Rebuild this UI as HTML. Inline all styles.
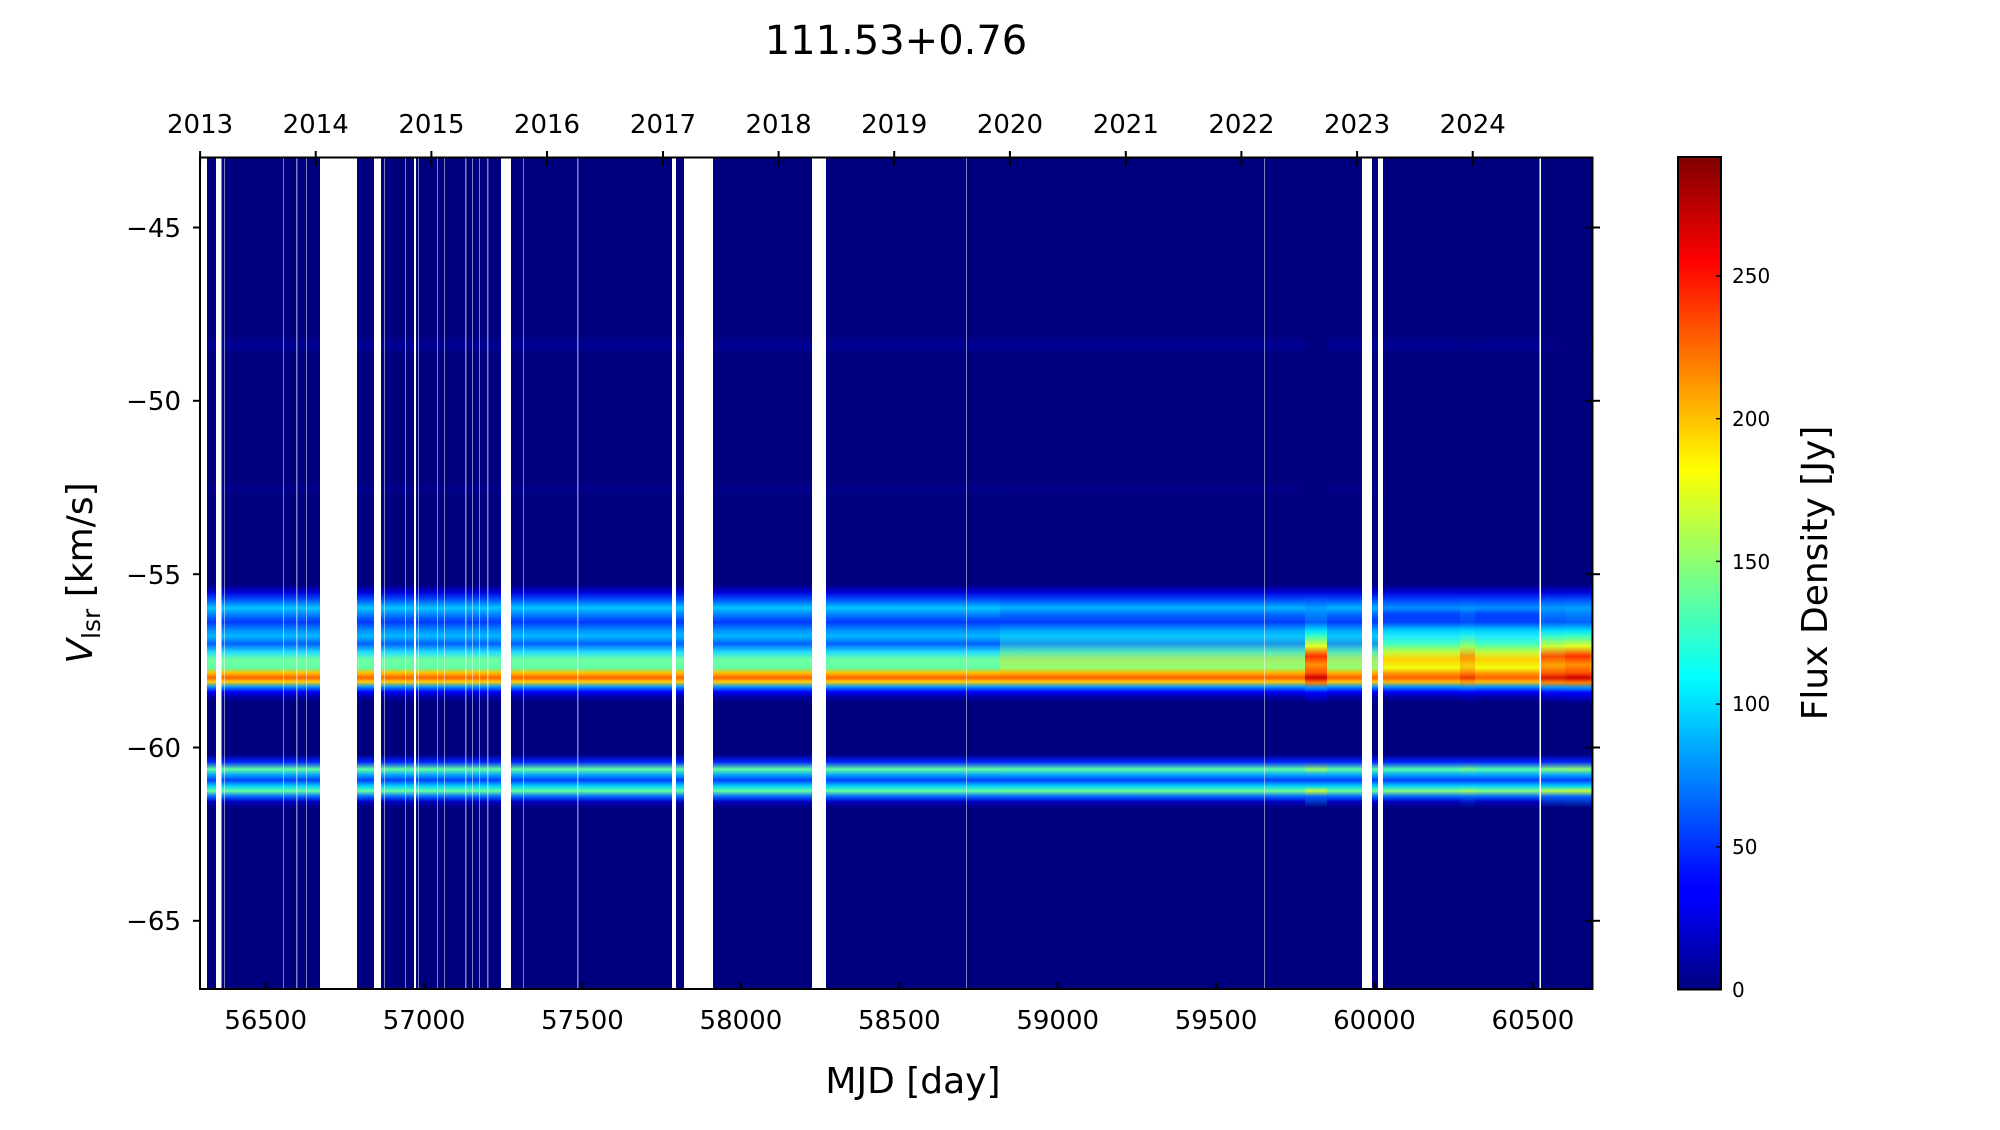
<!DOCTYPE html>
<html><head><meta charset="utf-8"><style>
html,body{margin:0;padding:0;background:#fff;}
svg text{font-family:"DejaVu Sans","Liberation Sans",sans-serif;fill:#000;}
</style></head><body>
<svg width="2000" height="1125" viewBox="0 0 2000 1125" xmlns="http://www.w3.org/2000/svg">
<defs>
<linearGradient id="gA" gradientUnits="userSpaceOnUse" x1="0" y1="157" x2="0" y2="989">
<stop offset="0" stop-color="#00007f"/>
<stop offset="0.2165" stop-color="#00007f"/>
<stop offset="0.2260" stop-color="#000098"/>
<stop offset="0.2380" stop-color="#00007f"/>
<stop offset="0.3920" stop-color="#00007f"/>
<stop offset="0.3990" stop-color="#00008e"/>
<stop offset="0.4060" stop-color="#00007f"/>
<stop offset="0.5140" stop-color="#00007f"/>
<stop offset="0.5230" stop-color="#0000d8"/>
<stop offset="0.5320" stop-color="#0050ff"/>
<stop offset="0.5420" stop-color="#00c8ff"/>
<stop offset="0.5500" stop-color="#0080ff"/>
<stop offset="0.5590" stop-color="#0038ff"/>
<stop offset="0.5690" stop-color="#0090ff"/>
<stop offset="0.5760" stop-color="#00b8ff"/>
<stop offset="0.5850" stop-color="#0060ff"/>
<stop offset="0.5950" stop-color="#20dcff"/>
<stop offset="0.6040" stop-color="#70ffa0"/>
<stop offset="0.6140" stop-color="#60ffa8"/>
<stop offset="0.6200" stop-color="#ffc000"/>
<stop offset="0.6260" stop-color="#ff6000"/>
<stop offset="0.6310" stop-color="#ffd000"/>
<stop offset="0.6370" stop-color="#0090ff"/>
<stop offset="0.6430" stop-color="#0000ff"/>
<stop offset="0.6500" stop-color="#00009a"/>
<stop offset="0.6570" stop-color="#00007f"/>
<stop offset="0.7180" stop-color="#00007f"/>
<stop offset="0.7270" stop-color="#0020ff"/>
<stop offset="0.7360" stop-color="#60ffa0"/>
<stop offset="0.7430" stop-color="#00a0ff"/>
<stop offset="0.7490" stop-color="#0040ff"/>
<stop offset="0.7560" stop-color="#00d0ff"/>
<stop offset="0.7620" stop-color="#60ffa0"/>
<stop offset="0.7690" stop-color="#0060ff"/>
<stop offset="0.7750" stop-color="#0000c0"/>
<stop offset="0.7820" stop-color="#00007f"/>
<stop offset="1" stop-color="#00007f"/>
</linearGradient>
<linearGradient id="gB" gradientUnits="userSpaceOnUse" x1="0" y1="157" x2="0" y2="989">
<stop offset="0" stop-color="#00007f"/>
<stop offset="0.2165" stop-color="#00007f"/>
<stop offset="0.2260" stop-color="#000098"/>
<stop offset="0.2380" stop-color="#00007f"/>
<stop offset="0.5140" stop-color="#00007f"/>
<stop offset="0.5230" stop-color="#0000d8"/>
<stop offset="0.5320" stop-color="#0040ff"/>
<stop offset="0.5420" stop-color="#0090ff"/>
<stop offset="0.5500" stop-color="#0040ff"/>
<stop offset="0.5590" stop-color="#0040ff"/>
<stop offset="0.5690" stop-color="#00d0ff"/>
<stop offset="0.5760" stop-color="#20e8ff"/>
<stop offset="0.5850" stop-color="#40ffc0"/>
<stop offset="0.5950" stop-color="#c0ff40"/>
<stop offset="0.6040" stop-color="#ffd000"/>
<stop offset="0.6140" stop-color="#f0ff10"/>
<stop offset="0.6200" stop-color="#ffa000"/>
<stop offset="0.6260" stop-color="#ff6000"/>
<stop offset="0.6310" stop-color="#ffc000"/>
<stop offset="0.6370" stop-color="#0090ff"/>
<stop offset="0.6430" stop-color="#0000ff"/>
<stop offset="0.6500" stop-color="#00009a"/>
<stop offset="0.6570" stop-color="#00007f"/>
<stop offset="0.7180" stop-color="#00007f"/>
<stop offset="0.7270" stop-color="#0020ff"/>
<stop offset="0.7360" stop-color="#50ffb0"/>
<stop offset="0.7430" stop-color="#00a0ff"/>
<stop offset="0.7490" stop-color="#0040ff"/>
<stop offset="0.7560" stop-color="#00d0ff"/>
<stop offset="0.7620" stop-color="#80ff80"/>
<stop offset="0.7690" stop-color="#0060ff"/>
<stop offset="0.7750" stop-color="#0000c0"/>
<stop offset="0.7820" stop-color="#00007f"/>
<stop offset="1" stop-color="#00007f"/>
</linearGradient>
<linearGradient id="gH" gradientUnits="userSpaceOnUse" x1="0" y1="157" x2="0" y2="989">
<stop offset="0" stop-color="#00007f"/>
<stop offset="0.5140" stop-color="#00007f"/>
<stop offset="0.5230" stop-color="#0000d8"/>
<stop offset="0.5320" stop-color="#0050ff"/>
<stop offset="0.5420" stop-color="#00a0ff"/>
<stop offset="0.5590" stop-color="#0060ff"/>
<stop offset="0.5690" stop-color="#00e0ff"/>
<stop offset="0.5760" stop-color="#40ffc0"/>
<stop offset="0.5880" stop-color="#e0ff20"/>
<stop offset="0.6000" stop-color="#ff3000"/>
<stop offset="0.6100" stop-color="#ff9000"/>
<stop offset="0.6200" stop-color="#ff5000"/>
<stop offset="0.6260" stop-color="#d00000"/>
<stop offset="0.6320" stop-color="#ff8000"/>
<stop offset="0.6380" stop-color="#0090ff"/>
<stop offset="0.6440" stop-color="#0000ff"/>
<stop offset="0.6570" stop-color="#00007f"/>
<stop offset="0.7180" stop-color="#00007f"/>
<stop offset="0.7270" stop-color="#0020ff"/>
<stop offset="0.7360" stop-color="#90ff70"/>
<stop offset="0.7430" stop-color="#00a0ff"/>
<stop offset="0.7490" stop-color="#0040ff"/>
<stop offset="0.7560" stop-color="#00d0ff"/>
<stop offset="0.7620" stop-color="#c0ff40"/>
<stop offset="0.7690" stop-color="#0060ff"/>
<stop offset="0.7820" stop-color="#00007f"/>
<stop offset="1" stop-color="#00007f"/>
</linearGradient>
<linearGradient id="cb" x1="0" y1="1" x2="0" y2="0">
<stop offset="0" stop-color="#00007f"/>
<stop offset="0.11" stop-color="#0000ff"/>
<stop offset="0.125" stop-color="#0000ff"/>
<stop offset="0.375" stop-color="#00ffff"/>
<stop offset="0.625" stop-color="#ffff00"/>
<stop offset="0.875" stop-color="#ff0000"/>
<stop offset="1" stop-color="#7f0000"/>
</linearGradient>
</defs>

<text x="896" y="54" font-size="40" text-anchor="middle">111.53+0.76</text>

<rect x="200" y="157" width="1183" height="832" fill="url(#gA)"/>
<rect x="1000" y="157" width="383" height="832" fill="url(#gB)" opacity="0.35"/>
<rect x="1383" y="157" width="210" height="832" fill="url(#gB)"/>
<rect x="1305" y="157" width="22" height="832" fill="url(#gH)"/>
<rect x="1540" y="157" width="53" height="832" fill="url(#gH)" opacity="0.8"/>
<rect x="1460" y="157" width="15" height="832" fill="url(#gH)" opacity="0.4"/>
<rect x="1565" y="157" width="25" height="832" fill="url(#gH)"/>

<g fill="#fff">
<rect x="200" y="158" width="7" height="831"/>
<rect x="216" y="158" width="5.5" height="831"/>
<rect x="320" y="158" width="37" height="831"/>
<rect x="374" y="158" width="7" height="831"/>
<rect x="414" y="158" width="2" height="831"/>
<rect x="501" y="158" width="10" height="831"/>
<rect x="672" y="158" width="4" height="831"/>
<rect x="684" y="158" width="29" height="831"/>
<rect x="812" y="158" width="14" height="831"/>
<rect x="1362" y="158" width="10" height="831"/>
<rect x="1378" y="158" width="5" height="831"/>
<rect x="1539.5" y="158" width="1.5" height="831"/>
</g>
<g fill="#fff" opacity="0.5">
<rect x="224" y="158" width="1" height="831"/>
<rect x="283" y="158" width="1" height="831"/>
<rect x="296" y="158" width="1.5" height="831"/>
<rect x="306" y="158" width="1" height="831"/>
<rect x="384" y="158" width="1" height="831"/>
<rect x="405" y="158" width="1" height="831"/>
<rect x="418" y="158" width="1" height="831"/>
<rect x="437" y="158" width="1" height="831"/>
<rect x="444" y="158" width="1" height="831"/>
<rect x="465" y="158" width="1.5" height="831"/>
<rect x="472" y="158" width="1" height="831"/>
<rect x="479" y="158" width="1" height="831"/>
<rect x="487" y="158" width="1.5" height="831"/>
<rect x="523" y="158" width="1" height="831"/>
<rect x="577" y="158" width="1.5" height="831"/>
<rect x="966" y="158" width="1" height="831"/>
<rect x="1264" y="158" width="1" height="831"/>
</g>

<rect x="200" y="157.5" width="1392.5" height="831.5" fill="none" stroke="#000" stroke-width="2"/>

<g stroke="#000" stroke-width="2">
<line x1="200.1" y1="151" x2="200.1" y2="166"/><line x1="315.7" y1="151" x2="315.7" y2="166"/>
<line x1="431.4" y1="151" x2="431.4" y2="166"/><line x1="547" y1="151" x2="547" y2="166"/>
<line x1="663" y1="151" x2="663" y2="166"/><line x1="778.6" y1="151" x2="778.6" y2="166"/>
<line x1="894.2" y1="151" x2="894.2" y2="166"/><line x1="1009.9" y1="151" x2="1009.9" y2="166"/>
<line x1="1125.8" y1="151" x2="1125.8" y2="166"/><line x1="1241.4" y1="151" x2="1241.4" y2="166"/>
<line x1="1357.1" y1="151" x2="1357.1" y2="166"/><line x1="1472.7" y1="151" x2="1472.7" y2="166"/>
</g>
<g font-size="26" text-anchor="middle">
<text x="200.1" y="133">2013</text><text x="315.7" y="133">2014</text><text x="431.4" y="133">2015</text>
<text x="547" y="133">2016</text><text x="663" y="133">2017</text><text x="778.6" y="133">2018</text>
<text x="894.2" y="133">2019</text><text x="1009.9" y="133">2020</text><text x="1125.8" y="133">2021</text>
<text x="1241.4" y="133">2022</text><text x="1357.1" y="133">2023</text><text x="1472.7" y="133">2024</text>
</g>

<g stroke="#000" stroke-width="2">
<line x1="265.7" y1="982" x2="265.7" y2="989"/><line x1="424.1" y1="982" x2="424.1" y2="989"/>
<line x1="582.5" y1="982" x2="582.5" y2="989"/><line x1="740.9" y1="982" x2="740.9" y2="989"/>
<line x1="899.3" y1="982" x2="899.3" y2="989"/><line x1="1057.7" y1="982" x2="1057.7" y2="989"/>
<line x1="1216.1" y1="982" x2="1216.1" y2="989"/><line x1="1374.5" y1="982" x2="1374.5" y2="989"/>
<line x1="1532.9" y1="982" x2="1532.9" y2="989"/>
</g>
<g font-size="26" text-anchor="middle">
<text x="265.7" y="1029">56500</text><text x="424.1" y="1029">57000</text><text x="582.5" y="1029">57500</text>
<text x="740.9" y="1029">58000</text><text x="899.3" y="1029">58500</text><text x="1057.7" y="1029">59000</text>
<text x="1216.1" y="1029">59500</text><text x="1374.5" y="1029">60000</text><text x="1532.9" y="1029">60500</text>
</g>
<text x="913" y="1093" font-size="36" text-anchor="middle">MJD [day]</text>

<g stroke="#000" stroke-width="2">
<line x1="193" y1="227.5" x2="200" y2="227.5"/><line x1="193" y1="400.8" x2="200" y2="400.8"/>
<line x1="193" y1="574.2" x2="200" y2="574.2"/><line x1="193" y1="747.5" x2="200" y2="747.5"/>
<line x1="193" y1="920.8" x2="200" y2="920.8"/>
<line x1="1585" y1="227.5" x2="1600" y2="227.5"/><line x1="1585" y1="400.8" x2="1600" y2="400.8"/>
<line x1="1585" y1="574.2" x2="1600" y2="574.2"/><line x1="1585" y1="747.5" x2="1600" y2="747.5"/>
<line x1="1585" y1="920.8" x2="1600" y2="920.8"/>
</g>
<g font-size="26" text-anchor="end">
<text x="181" y="237">−45</text><text x="181" y="410">−50</text><text x="181" y="584">−55</text>
<text x="181" y="757">−60</text><text x="181" y="930">−65</text>
</g>
<text transform="translate(92,573) rotate(-90)" font-size="36" text-anchor="middle"><tspan font-style="italic">V</tspan><tspan font-size="25" dy="8">lsr</tspan><tspan dy="-8"> [km/s]</tspan></text>

<rect x="1678" y="157" width="43" height="832.5" fill="url(#cb)"/>
<rect x="1678" y="157" width="43" height="832.5" fill="none" stroke="#000" stroke-width="2"/>
<g stroke="#000" stroke-width="1.5">
<line x1="1716" y1="989.5" x2="1721" y2="989.5"/><line x1="1716" y1="846.8" x2="1721" y2="846.8"/>
<line x1="1716" y1="704.1" x2="1721" y2="704.1"/><line x1="1716" y1="561.4" x2="1721" y2="561.4"/>
<line x1="1716" y1="418.7" x2="1721" y2="418.7"/><line x1="1716" y1="276" x2="1721" y2="276"/>
</g>
<g font-size="20">
<text x="1732" y="997">0</text><text x="1732" y="854">50</text><text x="1732" y="711">100</text>
<text x="1732" y="569">150</text><text x="1732" y="426">200</text><text x="1732" y="283">250</text>
</g>
<text transform="translate(1827,573) rotate(-90)" font-size="36" text-anchor="middle">Flux Density [Jy]</text>
</svg>
</body></html>
